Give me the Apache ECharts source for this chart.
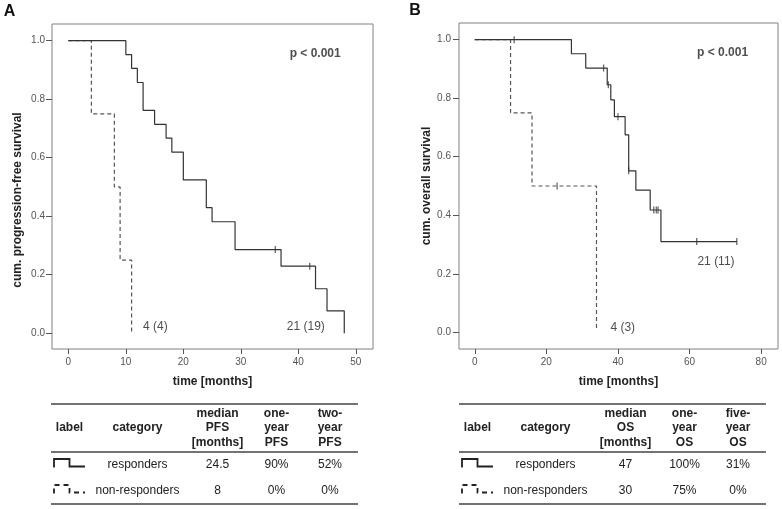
<!DOCTYPE html>
<html>
<head>
<meta charset="utf-8">
<script src="https://cdn.jsdelivr.net/npm/echarts@6/dist/echarts.min.js"></script>
<style>html,body{margin:0;padding:0;background:#fff}#c{width:782px;height:509px}</style>
</head>
<body>
<div id="c"></div>
<script>
// ---- Panel A: progression-free survival ----
const pfsRespTime = [0, 10, 11, 12, 13, 15, 17, 18, 20, 24, 25, 29, 37, 43, 45, 48];
const pfsRespSurv = [1, 0.952, 0.905, 0.857, 0.762, 0.714, 0.667, 0.619, 0.524, 0.429, 0.381, 0.286, 0.229, 0.152, 0.076, 0];
const pfsRespCensTime = [36, 42];
const pfsRespCensSurv = [0.286, 0.229];
const pfsNonTime = [0, 4, 8, 9, 11];
const pfsNonSurv = [1, 0.75, 0.5, 0.25, 0.005];
// ---- Panel B: overall survival ----
const osRespTime = [0, 27, 31, 37, 38, 39, 42, 43, 45, 49, 52, 73.2];
const osRespSurv = [1, 0.952, 0.903, 0.846, 0.794, 0.737, 0.675, 0.552, 0.486, 0.418, 0.31, 0.31];
const osRespCensTime = [11, 36, 37.3, 40, 43, 50, 50.7, 51.2, 62, 73.2];
const osRespCensSurv = [1, 0.903, 0.846, 0.737, 0.552, 0.418, 0.418, 0.418, 0.31, 0.31];
const osNonTime = [0, 10, 16, 34];
const osNonSurv = [1, 0.75, 0.5, 0.005];
const osNonCensTime = [23];
const osNonCensSurv = [0.5];
// ---- ticks ----
const xTicksA = [0, 10, 20, 30, 40, 50];
const xTicksB = [0, 20, 40, 60, 80];
const yTicks = [0, 0.2, 0.4, 0.6, 0.8, 1.0];
// ---- annotations ----
const annotA = [[13.0, 0.022, '4 (4)'], [38.0, 0.022, '21 (19)'], [38.5, 0.957, 'p < 0.001']];
const annotB = [[37.9, 0.016, '4 (3)'], [62.2, 0.24, '21 (11)'], [62.1, 0.955, 'p < 0.001']];
// ---- tables ----
const tableAHeader = ['label', 'category', 'median\nPFS\n[months]', 'one-\nyear\nPFS', 'two-\nyear\nPFS'];
const tableARows = [['responders', '24.5', '90%', '52%'], ['non-responders', '8', '0%', '0%']];
const tableBHeader = ['label', 'category', 'median\nOS\n[months]', 'one-\nyear\nOS', 'five-\nyear\nOS'];
const tableBRows = [['responders', '47', '100%', '31%'], ['non-responders', '30', '75%', '0%']];

const FONT = '"Liberation Sans", Arial, Helvetica, sans-serif';
const zip = (a, b) => a.map((v, i) => [v, b[i]]);

function xAxisFor(gi, min, max, ticks) {
  return {
    type: 'value', gridIndex: gi, min: min, max: max, position: 'bottom',
    axisLine: {show: false, onZero: false},
    splitLine: {show: false},
    axisTick: {show: true, length: 5, customValues: ticks, lineStyle: {color: '#555'}},
    axisLabel: {show: true, customValues: ticks, margin: 8, color: '#555', fontSize: 10, fontFamily: FONT},
    name: 'time [months]', nameLocation: 'middle', nameGap: 27,
    nameTextStyle: {fontWeight: 'bold', fontSize: 12, color: '#222', fontFamily: FONT}
  };
}
function yAxisFor(gi, min, max, margin) {
  return {
    type: 'value', gridIndex: gi, min: min, max: max, position: 'left',
    axisLine: {show: false, onZero: false},
    splitLine: {show: false},
    axisTick: {show: true, length: 6, customValues: yTicks, lineStyle: {color: '#555'}},
    axisLabel: {show: true, customValues: yTicks, margin: margin, color: '#555', fontSize: 10, fontFamily: FONT,
      formatter: v => v.toFixed(1)}
  };
}
function kmLine(xi, data, dashed) {
  return {
    type: 'line', xAxisIndex: xi, yAxisIndex: xi, step: 'end', data: data,
    symbol: 'none', silent: true, animation: false,
    lineStyle: {color: dashed ? '#555' : '#333', width: 1.2, type: dashed ? [4, 3] : 'solid'}
  };
}
function censors(xi, data) {
  return {
    type: 'scatter', xAxisIndex: xi, yAxisIndex: xi, data: data, symbol: 'rect',
    symbolSize: [1.2, 7], itemStyle: {color: '#333'}, silent: true, animation: false
  };
}
function annot(xi, arr) {
  return {
    type: 'scatter', xAxisIndex: xi, yAxisIndex: xi, symbolSize: 0, silent: true, animation: false,
    data: arr.map(a => ({
      value: [a[0], a[1]], name: a[2],
      label: {show: true, position: 'right', distance: 0, formatter: a[2],
        fontWeight: a[2].startsWith('p') ? 'bold' : 'normal',
        fontSize: 12, color: '#222', fontFamily: FONT}
    }))
  };
}

function table(left, header, rows) {
  const w = 307;
  const cols = [18.5, 86.5, 166.5, 225.5, 279];
  const els = [];
  [404, 452, 504].forEach(y => els.push({
    type: 'line', shape: {x1: left, y1: y, x2: left + w, y2: y},
    style: {stroke: '#444', lineWidth: 1.5}, silent: true
  }));
  header.forEach((h, i) => els.push({
    type: 'text', x: left + cols[i], y: 428,
    style: {text: h, align: 'center', verticalAlign: 'middle', lineHeight: 14.5,
      font: 'bold 12px ' + FONT, fill: '#222'}
  }));
  const rowY = [465, 491];
  rows.forEach((r, ri) => {
    r.forEach((t, ci) => els.push({
      type: 'text', x: left + cols[ci + 1], y: rowY[ri],
      style: {text: t, align: 'center', verticalAlign: 'middle', font: '12px ' + FONT, fill: '#222'}
    }));
    const yTop = rowY[ri] - 6, yBot = rowY[ri] + 1.5;
    els.push({
      type: 'polyline',
      shape: {points: [[left + 3, yBot + 1], [left + 3, yTop], [left + 18.5, yTop], [left + 18.5, yBot], [left + 34, yBot]]},
      style: {stroke: '#222', lineWidth: 1.8, fill: null, lineDash: ri === 0 ? null : [5, 4]},
      silent: true
    });
  });
  return els;
}

const chart = echarts.init(document.getElementById('c'), null, {renderer: 'canvas'});
chart.setOption({
  backgroundColor: '#fff',
  animation: false,
  grid: [
    {left: 52, top: 24, width: 321, height: 325, show: true, borderColor: '#808080', borderWidth: 1, backgroundColor: 'transparent'},
    {left: 459, top: 23, width: 319, height: 326, show: true, borderColor: '#808080', borderWidth: 1, backgroundColor: 'transparent'}
  ],
  xAxis: [xAxisFor(0, -2.85, 53.0, xTicksA), xAxisFor(1, -4.4, 84.7, xTicksB)],
  yAxis: [yAxisFor(0, -0.054, 1.057, 7), yAxisFor(1, -0.057, 1.057, 8)],
  series: [
    kmLine(0, zip(pfsNonTime, pfsNonSurv), true),
    kmLine(0, zip(pfsRespTime, pfsRespSurv), false),
    censors(0, zip(pfsRespCensTime, pfsRespCensSurv)),
    annot(0, annotA),
    kmLine(1, zip(osNonTime, osNonSurv), true),
    kmLine(1, zip(osRespTime, osRespSurv), false),
    censors(1, zip(osRespCensTime, osRespCensSurv)),
    censors(1, zip(osNonCensTime, osNonCensSurv)),
    annot(1, annotB)
  ],
  graphic: [
    {type: 'text', x: 9.5, y: 12, style: {text: 'A', align: 'center', verticalAlign: 'middle', font: 'bold 16px ' + FONT, fill: '#111'}},
    {type: 'text', x: 415, y: 11, style: {text: 'B', align: 'center', verticalAlign: 'middle', font: 'bold 16px ' + FONT, fill: '#111'}},
    {type: 'text', x: 18, y: 200, rotation: Math.PI / 2,
      style: {text: 'cum. progression-free survival', align: 'center', verticalAlign: 'middle', font: 'bold 12px ' + FONT, fill: '#222'}},
    {type: 'text', x: 427, y: 186, rotation: Math.PI / 2,
      style: {text: 'cum. overall survival', align: 'center', verticalAlign: 'middle', font: 'bold 12px ' + FONT, fill: '#222'}}
  ].concat(table(51, tableAHeader, tableARows), table(459, tableBHeader, tableBRows))
});
</script>
</body>
</html>
